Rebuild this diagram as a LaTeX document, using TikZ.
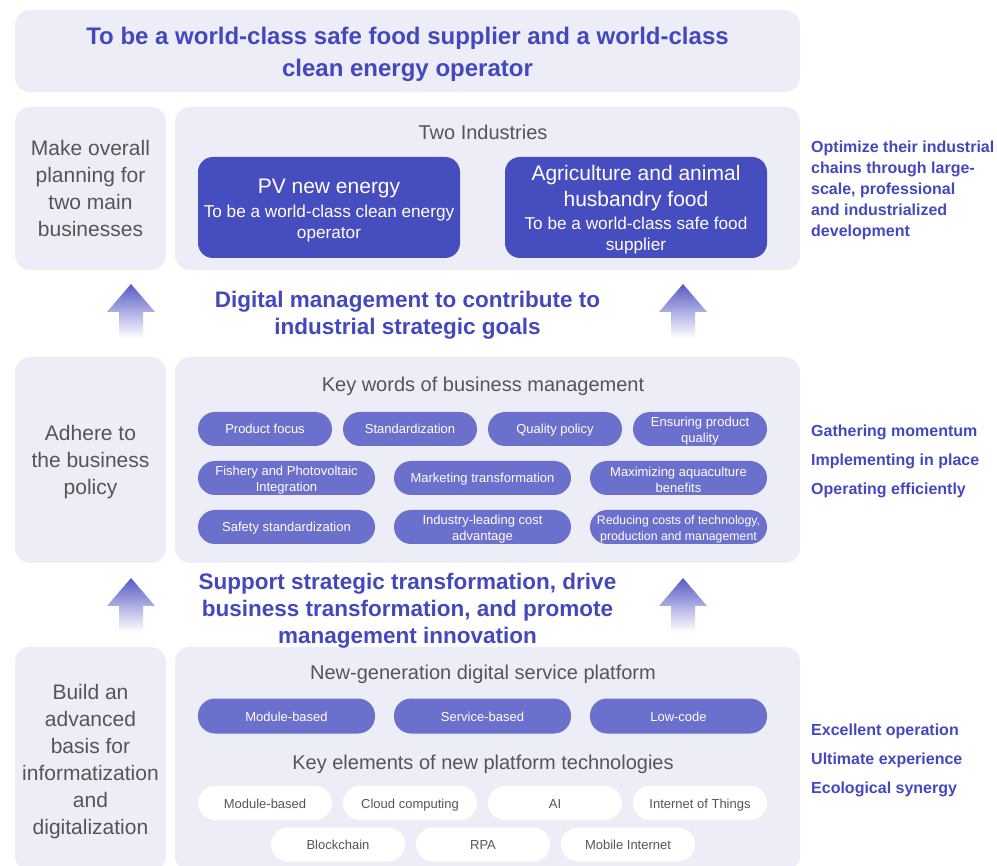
\documentclass[tikz,border=0pt]{standalone}
\usepackage{fontspec}
\setmainfont{Liberation Sans}
\usepackage{tikz}
\usetikzlibrary{positioning}
\usepackage{xcolor}

\definecolor{panelbg}{HTML}{EDEDF8}
\definecolor{deepblue}{HTML}{454DBF}
\definecolor{pillblue}{HTML}{6A70CB}
\definecolor{headblue}{HTML}{4348BE}
\definecolor{textgray}{HTML}{555555}

\begin{document}
\begin{tikzpicture}[x=1pt, y=-1pt,
  panel/.style={fill=panelbg, rounded corners=15pt, inner sep=0pt, align=center},
  sidetext/.style={text=textgray, font=\fontsize{21}{27}\selectfont},
  headtext/.style={text=textgray, font=\fontsize{20}{24}\selectfont, inner sep=0pt},
  goaltext/.style={text=headblue, font=\bfseries\fontsize{22.5}{27}\selectfont, align=center, inner sep=0pt},
  notetext/.style={text=headblue, font=\bfseries\fontsize{16}{21}\selectfont, align=left, anchor=west, inner sep=0pt},
  industry/.style={fill=deepblue, rounded corners=15pt,
    minimum width=262pt, minimum height=101pt, inner sep=0pt},
  indname/.style={text=white, align=center, inner sep=0pt, font=\fontsize{21}{26.5}\selectfont},
  indsub/.style={text=white, align=center, inner sep=0pt, font=\fontsize{17.2}{21}\selectfont},
  pill/.style={fill=pillblue, rounded corners=17pt, text=white, align=center,
    font=\fontsize{13}{16}\selectfont, minimum height=34pt, inner sep=0pt},
  pilltext/.style={text=white, align=center, font=\fontsize{13}{16}\selectfont, inner sep=0pt},
  oneline/.style={text height=12pt, text depth=2pt},
  whitepill/.style={pill, fill=white, text=textgray}
]

\clip (0,0) rectangle (997,866);

% ---- overall goal ----------------------------------------------------------
\node[panel, minimum width=785pt, minimum height=82pt] (goal) at (407.5,51) {};
\node[text=headblue, font=\bfseries\fontsize{24}{32}\selectfont, align=center, inner sep=0pt]
  (goaltitle) at (407.5,54)
  {To be a world-class safe food supplier and a world-class\\clean energy operator};

% ---- row 1: two industries -------------------------------------------------
\node[panel, minimum width=151pt, minimum height=163pt] (plan) at (90.5,188.5) {};
\node[sidetext, align=center, inner sep=0pt] (plantext) at (90.5,188)
  {Make overall\\planning for\\two main\\businesses};
\node[panel, minimum width=625pt, minimum height=163pt] (twoind) at (487.5,188.5) {};
\node[headtext] (twoindhead) at (483,132) {Two Industries};

\node[industry] (pv) at (329,207.5) {};
\node[indname, anchor=base] (pvname) at (329,194) {PV new energy};
\node[indsub] (pvsub) at (329,224) {To be a world-class clean energy\\operator};

\node[industry] (agri) at (636,207.5) {};
\node[indname] (agriname) at (636,188) {Agriculture and animal\\husbandry food};
\node[indsub] (agrisub) at (636,236) {To be a world-class safe food\\supplier};

\node[notetext] (chains) at (811,190)
  {Optimize their industrial\\chains through large-\\scale, professional\\and industrialized\\development};

% ---- arrows ----------------------------------------------------------------
\foreach \ax/\ay in {131/284, 683/284, 131/578, 683/578}
  \shade[top color=headblue!90, bottom color=white]
    (\ax,\ay) -- ({\ax+24},{\ay+28}) -- ({\ax+12},{\ay+28}) -- ({\ax+12},{\ay+54})
    -- ({\ax-12},{\ay+54}) -- ({\ax-12},{\ay+28}) -- ({\ax-24},{\ay+28}) -- cycle;

\node[goaltext] (digital) at (407.5,315.5)
  {Digital management to contribute to\\industrial strategic goals};

% ---- row 2: business management --------------------------------------------
\node[panel, minimum width=151pt, minimum height=206pt] (policy) at (90.5,460) {};
\node[sidetext, align=center, inner sep=0pt] (policytext) at (90.5,462)
  {Adhere to\\the business\\policy};
\node[panel, minimum width=625pt, minimum height=206pt] (keywords) at (487.5,460) {};
\node[headtext] (keyhead) at (483,386.5) {Key words of business management};

\node[pill, oneline, minimum width=134pt] (focus)   at (265,429) {Product focus};
\node[pill, oneline, minimum width=134pt] (std)     at (410,429) {Standardization};
\node[pill, oneline, minimum width=134pt] (quality) at (555,429) {Quality policy};
\node[pill, minimum width=134pt] (ensure)  at (700,429) {};
\node[pilltext] (ensuretext) at (700,431) {Ensuring product\\quality};

\node[pill, minimum width=177pt] (fishery)   at (286.5,478) {};
\node[pilltext] (fisherytext) at (286.5,480) {Fishery and Photovoltaic\\Integration};
\node[pill, oneline, minimum width=177pt] (marketing) at (482.5,478) {Marketing transformation};
\node[pill, minimum width=177pt] (aqua)      at (678.5,478) {};
\node[pilltext] (aquatext) at (678.5,480) {Maximizing aquaculture\\benefits};

\node[pill, oneline, minimum width=177pt] (safety) at (286.5,527) {Safety standardization};
\node[pill, minimum width=177pt] (cost)   at (482.5,527) {};
\node[pilltext] (costtext) at (482.5,529) {Industry-leading cost\\advantage};
\node[pill, minimum width=177pt] (reduce) at (678.5,527) {};
\node[pilltext, font=\fontsize{12.3}{16}\selectfont] (reducetext) at (678.5,529)
  {Reducing costs of technology,\\production and management};

\node[notetext, font=\bfseries\fontsize{16}{29}\selectfont] (momentum) at (811,461)
  {Gathering momentum\\Implementing in place\\Operating efficiently};

% ---- row 3: digital platform -----------------------------------------------
\node[panel, minimum width=151pt, minimum height=224pt] (basis) at (90.5,759) {};
\node[sidetext, align=center, inner sep=0pt] (basistext) at (90.5,761.5)
  {Build an\\advanced\\basis for\\informatization\\and\\digitalization};
\node[panel, minimum width=625pt, minimum height=224pt] (platform) at (487.5,759) {};
\node[headtext] (platformhead) at (483,674) {New-generation digital service platform};

\node[goaltext] (support) at (407.5,611)
  {Support strategic transformation, drive\\business transformation, and promote\\management innovation};

\node[pill, oneline, minimum width=177pt, minimum height=35pt] (module)  at (286.5,716) {Module-based};
\node[pill, oneline, minimum width=177pt, minimum height=35pt] (service) at (482.5,716) {Service-based};
\node[pill, oneline, minimum width=177pt, minimum height=35pt] (lowcode) at (678.5,716) {Low-code};

\node[headtext] (elemhead) at (483,764) {Key elements of new platform technologies};

\node[whitepill, oneline, minimum width=134pt] (wmodule) at (265,803) {Module-based};
\node[whitepill, oneline, minimum width=134pt] (cloud)   at (410,803) {Cloud computing};
\node[whitepill, oneline, minimum width=134pt] (ai)      at (555,803) {AI};
\node[whitepill, oneline, minimum width=134pt] (iot)     at (700,803) {Internet of Things};

\node[whitepill, oneline, minimum width=134pt] (chain)  at (338,844.5) {Blockchain};
\node[whitepill, oneline, minimum width=134pt] (rpa)    at (483,844.5) {RPA};
\node[whitepill, oneline, minimum width=134pt] (mobile) at (628,844.5) {Mobile Internet};

\node[notetext, font=\bfseries\fontsize{16}{29}\selectfont] (synergy) at (811,760)
  {Excellent operation\\Ultimate experience\\Ecological synergy};

\end{tikzpicture}
\end{document}
